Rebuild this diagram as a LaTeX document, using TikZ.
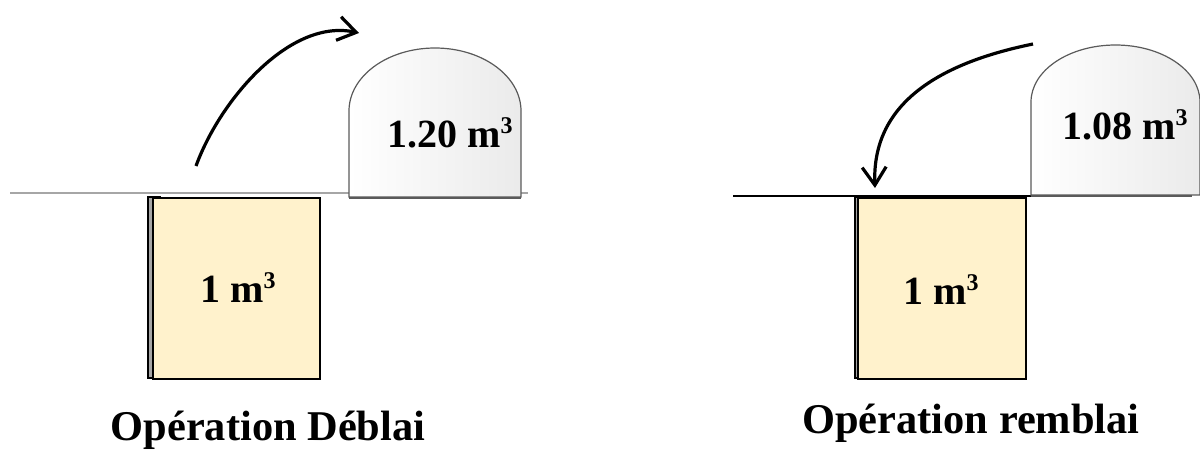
\documentclass[tikz,border=0pt]{standalone}
\usepackage{fontspec}
\setmainfont{Liberation Serif}
\usetikzlibrary{arrows.meta}
\definecolor{soil}{RGB}{255,242,204}
\definecolor{heapedge}{RGB}{90,90,90}
\newcommand\cubed{\raisebox{0.33em}{\fontsize{12}{12}\selectfont 3}}
\tikzset{
  ground/.style={line width=0.7pt},
  pit/.style={fill=soil, draw=black, line width=1pt},
  pitshadow/.style={fill=gray!70, draw=black, line width=0.6pt},
  heap/.style={draw=heapedge, line width=0.6pt, left color=white, right color=gray!16},
  move/.style={line width=1.6pt, -{Straight Barb[length=9pt,width=12pt,line width=1.6pt]}},
  vol/.style={font=\fontsize{20}{24}\selectfont\bfseries, inner sep=0pt, anchor=base},
  caption/.style={font=\fontsize{21.2}{25}\selectfont\bfseries, inner sep=0pt, anchor=base}
}
\begin{document}
\begin{tikzpicture}[x=0.5pt, y=-0.5pt]
\useasboundingbox (0,0) rectangle (1200,451);

% ---- Déblai: excavated volume swells ----
\coordinate (gl1) at (10,193);
\coordinate (gr1) at (528,193);
\draw[ground, draw=gray!70] (gl1) -- (gr1);
\draw[pitshadow] (148,197) rectangle (160,378);
\node[pit, minimum width=83.5pt, minimum height=90.5pt, anchor=north west, inner sep=0pt] (pitA) at (152,197) {};
\node[vol] (vA) at (238,302) {1 m\cubed};
% heap: straight sides, half-ellipse top
\path[heap] (349,197) -- (349,111)
  .. controls (349,76.2) and (387.5,48) .. (435,48)
  .. controls (482.5,48) and (521,76.2) .. (521,111)
  -- (521,197) -- cycle;
\draw[line width=1pt, draw=heapedge] (349,197.5) -- (521,197.5);
\node[vol] (hA) at (450,147) {1.20 m\cubed};
\coordinate (a1) at (196,166);
\coordinate (a2) at (359,33);
\draw[move] (a1) .. controls (220,100) and (290,18) .. (a2);
\node[caption] (capA) at (268,440) {Opération Déblai};

% ---- Remblai: compacted fill ----
\coordinate (gl2) at (733,196);
\coordinate (gr2) at (1192,196);
\draw[ground] (gl2) -- (gr2);
\path[heap] (1031,195) -- (1031,102)
  .. controls (1031,70.5) and (1068.8,45) .. (1115.5,45)
  .. controls (1162.2,45) and (1200,70.5) .. (1200,102)
  -- (1200,195) -- cycle;
\draw[line width=1pt, draw=heapedge] (1031,195.5) -- (1192,195.5);
\node[vol] (hB) at (1125,139) {1.08 m\cubed};
\draw[pitshadow] (855,197) rectangle (862,378);
\node[pit, minimum width=84pt, minimum height=90.5pt, anchor=north west, inner sep=0pt] (pitB) at (857,197) {};
\node[vol] (vB) at (941,304) {1 m\cubed};
\coordinate (b1) at (1033,44);
\coordinate (b2) at (875,188);
\draw[move] (b1) .. controls (925,66) and (872,112) .. (b2);
\node[caption] (capB) at (971,433) {Opération remblai};
\end{tikzpicture}
\end{document}
